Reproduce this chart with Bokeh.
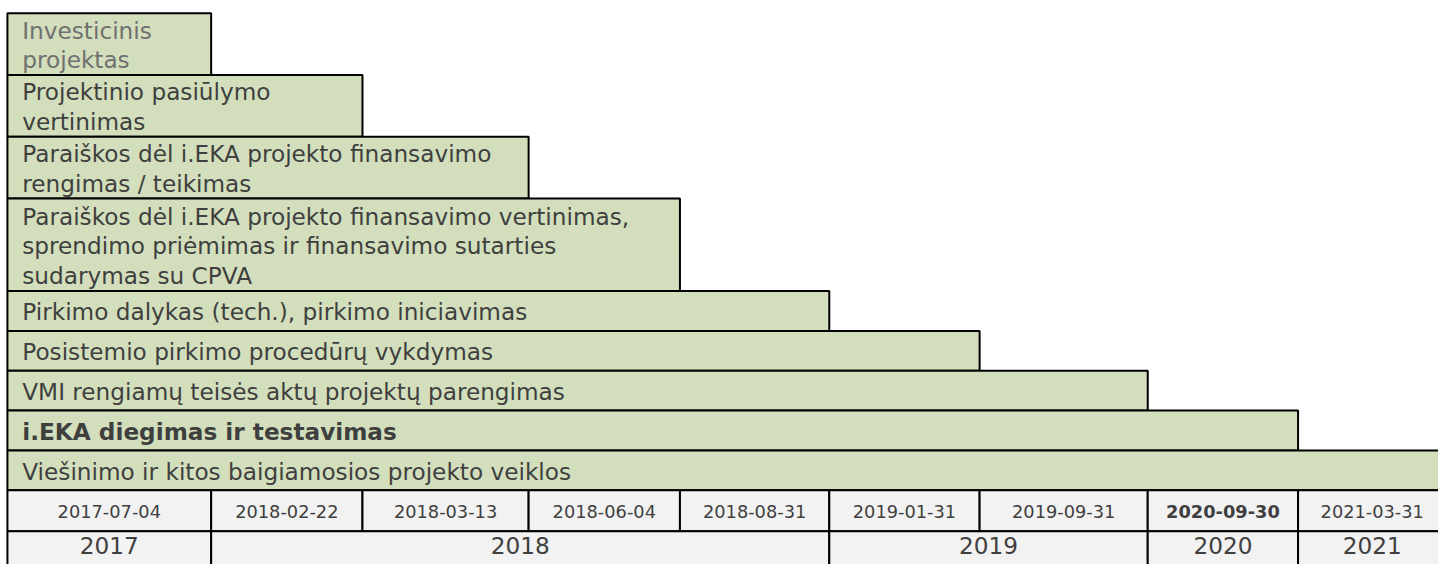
from bokeh.plotting import figure
from bokeh.models import Range1d, ColumnDataSource
from bokeh.core.properties import value
from bokeh.embed import file_html
from bokeh.resources import INLINE

# ---------------- data ----------------
tasks = [
    "Investicinis\nprojektas",
    "Projektinio pasiūlymo\nvertinimas",
    "Paraiškos dėl i.EKA projekto finansavimo\nrengimas / teikimas",
    "Paraiškos dėl i.EKA projekto finansavimo vertinimas,\nsprendimo priėmimas ir finansavimo sutarties\nsudarymas su CPVA",
    "Pirkimo dalykas (tech.), pirkimo iniciavimas",
    "Posistemio pirkimo procedūrų vykdymas",
    "VMI rengiamų teisės aktų projektų parengimas",
    "i.EKA diegimas ir testavimas",
    "Viešinimo ir kitos baigiamosios projekto veiklos",
]
task_end = ["2017-07-04", "2018-02-22", "2018-03-13", "2018-06-04", "2018-08-31",
            "2019-01-31", "2019-09-31", "2020-09-30", "2021-03-31"]
date_labels = ["2017-07-04", "2018-02-22", "2018-03-13", "2018-06-04", "2018-08-31",
               "2019-01-31", "2019-09-31", "2020-09-30", "2021-03-31"]
bold_dates = ["2020-09-30"]
years = ["2017", "2018", "2019", "2020", "2021"]
year_cols = [1, 4, 2, 1, 1]
bold_tasks = ["i.EKA diegimas ir testavimas"]
light_tasks = ["Investicinis\nprojektas"]

# ---------------- layout ----------------
col_widths = [206, 153, 168, 153, 151, 152, 170, 152, 150]
X0, Y0 = 7, 13
LINE_H = 31.75
SINGLE_H = 41
TEXT_STEP = 30.5
DATE_H, YEAR_H = 42, 40
GREEN = "#d3dfbc"
GREY_BG = "#f2f2f2"
TXT = "#3f3f3f"
FONT = value("DejaVu Sans")
FS = "23.2px"

col_edges = [X0]
for w in col_widths:
    col_edges.append(col_edges[-1] + w)

p = figure(width=1438, height=564, x_range=Range1d(0, 1454), y_range=Range1d(580, 0),
           output_backend="svg", toolbar_location=None, tools="")
p.axis.visible = False
p.grid.visible = False
p.outline_line_color = None
p.min_border_left = p.min_border_right = p.min_border_top = p.min_border_bottom = 0
p.background_fill_color = "white"
p.border_fill_color = "white"

# task bars
bl, br, bt, bb = [], [], [], []
norm = dict(x=[], y=[], text=[], color=[])
bold = dict(x=[], y=[], text=[], color=[])
y = Y0
for t, e in zip(tasks, task_end):
    lines = t.split("\n")
    h = LINE_H * len(lines) if len(lines) > 1 else SINGLE_H
    idx = date_labels.index(e)
    bl.append(X0); br.append(col_edges[idx + 1]); bt.append(y); bb.append(y + h)
    cy = y + h / 2
    for k, ln in enumerate(lines):
        ly = cy + (k - (len(lines) - 1) / 2) * TEXT_STEP
        d = bold if t in bold_tasks else norm
        d["x"].append(X0 + 15)
        d["y"].append(ly + 1)
        d["text"].append(ln)
        d["color"].append("#707070" if t in light_tasks else TXT)
    y += h

p.quad(left=bl, right=br, top=bt, bottom=bb, fill_color=GREEN,
       line_color="black", line_width=2)

# date row
date_top = y
p.quad(left=col_edges[:-1], right=col_edges[1:], top=[date_top] * len(date_labels),
       bottom=[date_top + DATE_H] * len(date_labels), fill_color=GREY_BG,
       line_color="black", line_width=2)
dn = dict(x=[], y=[], text=[])
db = dict(x=[], y=[], text=[])
for i, d in enumerate(date_labels):
    tgt = db if d in bold_dates else dn
    tgt["x"].append((col_edges[i] + col_edges[i + 1]) / 2)
    tgt["y"].append(date_top + DATE_H / 2 + 1)
    tgt["text"].append(d)

# year row
year_top = date_top + DATE_H
yl, yr, yx = [], [], []
c = 0
for n in year_cols:
    yl.append(col_edges[c]); yr.append(col_edges[c + n])
    yx.append((col_edges[c] + col_edges[c + n]) / 2)
    c += n
p.quad(left=yl, right=yr, top=[year_top] * len(years), bottom=[year_top + YEAR_H] * len(years),
       fill_color=GREY_BG, line_color="black", line_width=2)

p.text(x="x", y="y", text="text", text_color="color", source=ColumnDataSource(norm),
       text_font=FONT, text_font_size=FS, text_baseline="middle", text_align="left")
p.text(x="x", y="y", text="text", text_color="color", source=ColumnDataSource(bold),
       text_font=FONT, text_font_size=FS, text_font_style="bold",
       text_baseline="middle", text_align="left")
p.text(x="x", y="y", text="text", source=ColumnDataSource(dn), text_color=TXT,
       text_font=FONT, text_font_size="17.8px", text_baseline="middle", text_align="center")
p.text(x="x", y="y", text="text", source=ColumnDataSource(db), text_color=TXT,
       text_font=FONT, text_font_size="17.8px", text_font_style="bold",
       text_baseline="middle", text_align="center")
p.text(x=yx, y=[year_top + 15] * len(years), text=years, text_color=TXT,
       text_font=FONT, text_font_size=FS, text_baseline="middle", text_align="center")

open("out.html", "w").write(file_html(p, INLINE))
